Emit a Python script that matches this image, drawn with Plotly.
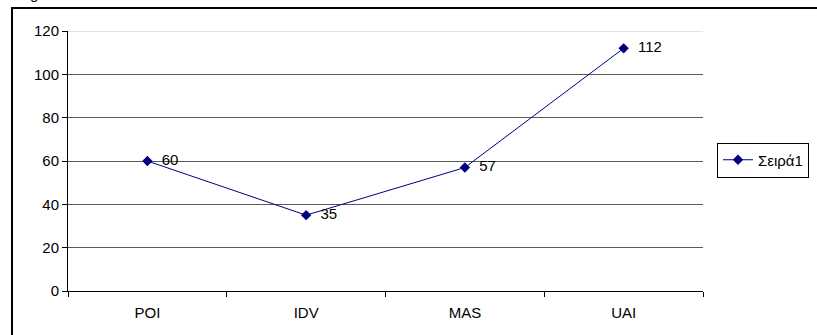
import plotly.graph_objects as go

# Hofstede dimension scores
categories = ["POI", "IDV", "MAS", "UAI"]
scores = [60, 35, 57, 112]
series_name = "Σειρά1"
y_ticks = [0, 20, 40, 60, 80, 100, 120]

W, H = 817, 335
L, R, T, B = 68, 114, 31, 44
pw, ph = W - L - R, H - T - B

FONT = "Liberation Sans, Arial, sans-serif"
FS = 15
NAVY = "#000080"

def px_x(x):
    return (x - L) / pw

def px_y(y):
    return (H - B - y) / ph

fig = go.Figure()
fig.add_trace(go.Scatter(
    x=categories,
    y=scores,
    mode="lines+markers+text",
    name=series_name,
    line=dict(color=NAVY, width=1),
    marker=dict(symbol="diamond", size=8, color=NAVY),
    texttemplate="  %{y}",
    textposition="middle right",
    textfont=dict(family=FONT, size=FS, color="black"),
    cliponaxis=False,
))

fig.update_layout(
    width=W,
    height=H,
    margin=dict(l=L, r=R, t=T, b=B, pad=0, autoexpand=False),
    paper_bgcolor="white",
    plot_bgcolor="white",
    font=dict(family=FONT, size=FS, color="black"),
    showlegend=True,
    legend=dict(
        x=px_x(717), xanchor="left",
        y=px_y(160), yanchor="middle",
        bordercolor="black", borderwidth=1,
        bgcolor="white",
        font=dict(family=FONT, size=FS, color="black"),
        itemwidth=30,
    ),
    xaxis=dict(
        type="category",
        showline=True, linecolor="black", linewidth=1,
        ticks="outside", tickson="boundaries", ticklen=5,
        tickcolor="black", showgrid=False,
        range=[-0.5, len(categories) - 0.5],
        ticklabelstandoff=8,
    ),
    yaxis=dict(
        range=[0, 120],
        tickvals=y_ticks,
        showline=True, linecolor="black", linewidth=1,
        ticks="outside", ticklen=5, tickcolor="black",
        showgrid=True, gridcolor="#5a5a5a", gridwidth=1,
        zeroline=False,
    ),
    shapes=[
        # lighter top gridline
        dict(type="line", xref="paper", yref="y", x0=0, x1=1,
             y0=y_ticks[-1], y1=y_ticks[-1],
             line=dict(color="#c4c4c4", width=1), layer="below"),
        # outer chart frame
        dict(type="rect", xref="paper", yref="paper",
             x0=px_x(12), x1=px_x(W + 20), y0=px_y(H + 20), y1=px_y(8),
             line=dict(color="black", width=2), fillcolor="rgba(0,0,0,0)",
             layer="above"),
    ],
    annotations=[
        dict(text="g", xref="paper", yref="paper",
             x=px_x(28), y=px_y(4), xanchor="left", yanchor="bottom",
             showarrow=False, font=dict(family=FONT, size=FS, color="black")),
    ],
)

fig.write_html("out.html")
